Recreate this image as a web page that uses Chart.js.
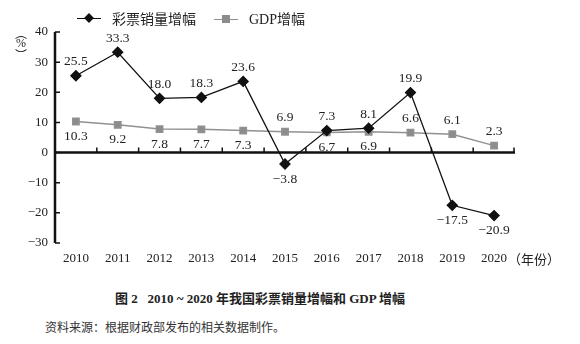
<!DOCTYPE html>
<html>
<head>
<meta charset="utf-8">
<script src="https://cdn.jsdelivr.net/npm/chart.js@4.4.1/dist/chart.umd.min.js"></script>
<style>
  body { margin: 0; background: #fff; width: 580px; height: 344px; overflow: hidden; position: relative;
         font-family: "Liberation Serif", "Noto Sans CJK SC", serif; color: #222; }
  #wrap { position: absolute; left: 0; top: 0; width: 580px; height: 270px; }
  .abs { position: absolute; white-space: nowrap; }
  .leg { top: 10px; font-size: 14px; line-height: 16px; display: flex; align-items: center; }
  .leg .ln { width: 24px; height: 0; position: relative; margin-right: 11px; }
  .leg .mk { position: absolute; left: 50%; top: 50%; }
  #unit { left: 14px; top: 28px; width: 14px; font-size: 12px; line-height: 9px; text-align: center; }
  #unit .p { font-family: "Noto Sans CJK SC", sans-serif; display: block; }
  #unit .pc { display: block; line-height: 13px; font-family: "Liberation Serif", serif; }
  #year { left: 508px; top: 249px; font-size: 13px; font-family: "Noto Sans CJK SC", sans-serif; }
  #title { left: 0; width: 520px; text-align: center; top: 288px; font-size: 13px; font-weight: bold; }
  #note { left: 45px; top: 318px; font-size: 12px; font-family: "Noto Sans CJK SC", sans-serif; color: #333; }
</style>
</head>
<body>
<div id="wrap"><canvas id="myChart"></canvas></div>
<div class="abs leg" style="left:77px">
  <span class="ln" style="border-top:1.5px solid #111"><span class="mk" style="width:7px;height:7px;background:#111;transform:translate(-50%,-50%) rotate(45deg);margin-top:-1px"></span></span>
  <span style="font-family:'Noto Sans CJK SC',sans-serif">彩票销量增幅</span>
</div>
<div class="abs leg" style="left:214px">
  <span class="ln" style="border-top:1.5px solid #8c8c8c"><span class="mk" style="width:8px;height:8px;background:#8c8c8c;transform:translate(-50%,-50%);margin-top:-1px"></span></span>
  <span>GDP<span style="font-family:'Noto Sans CJK SC',sans-serif">增幅</span></span>
</div>
<div class="abs" id="unit"><span class="p">︵</span><span class="pc">%</span><span class="p">︶</span></div>
<div class="abs" id="year">（年份）</div>
<div class="abs" id="title">图 2&nbsp;&nbsp;&nbsp;2010 ~ 2020 年我国彩票销量增幅和 GDP 增幅</div>
<div class="abs" id="note">资料来源：根据财政部发布的相关数据制作。</div>

<script>
// years on the x axis
const years = ['2010', '2011', '2012', '2013', '2014', '2015', '2016', '2017', '2018', '2019', '2020'];
// lottery sales growth (%)
const lotteryGrowth = [25.5, 33.3, 18.0, 18.3, 23.6, -3.8, 7.3, 8.1, 19.9, -17.5, -20.9];
// GDP growth (%)
const gdpGrowth = [10.3, 9.2, 7.8, 7.7, 7.3, 6.9, 6.7, 6.9, 6.6, 6.1, 2.3];
// where each value label sits
const lotteryLabelPos = ['up', 'up', 'up', 'up', 'up', 'down', 'up', 'up', 'up', 'down', 'down'];
const gdpLabelPos = ['down', 'down', 'down', 'down', 'down', 'up', 'down', 'down', 'up', 'up', 'up'];

const serif = '"Liberation Serif", "Times New Roman", serif';

// axis lines, zero line and inward tick marks
const axesPlugin = {
  id: 'axesPlugin',
  beforeDatasetsDraw(chart) {
    const ctx = chart.ctx;
    const x = chart.scales.x, y = chart.scales.y;
    const area = chart.chartArea;
    const y0 = y.getPixelForValue(0);
    ctx.save();
    ctx.strokeStyle = '#111';
    ctx.lineWidth = 2.5;
    ctx.beginPath();
    ctx.moveTo(area.left, area.top);
    ctx.lineTo(area.left, area.bottom);
    ctx.moveTo(area.left, y0);
    ctx.lineTo(area.right, y0);
    ctx.stroke();
    ctx.lineWidth = 1.5;
    ctx.beginPath();
    y.ticks.forEach((t) => {
      const py = y.getPixelForValue(t.value);
      ctx.moveTo(area.left, py);
      ctx.lineTo(area.left + 5, py);
    });
    for (let i = 0; i < years.length; i++) {
      const px = (x.getPixelForValue(i) + x.getPixelForValue(i + 1)) / 2;
      const edge = i === years.length - 1 ? area.right - 1 : px;
      ctx.moveTo(edge, y0);
      ctx.lineTo(edge, y0 - 5);
    }
    ctx.stroke();
    ctx.restore();
  },
  afterDatasetsDraw(chart) {
    const ctx = chart.ctx;
    ctx.save();
    ctx.font = '13.5px ' + serif;
    ctx.fillStyle = '#222';
    ctx.textAlign = 'center';
    ctx.textBaseline = 'middle';
    const posList = [lotteryLabelPos, gdpLabelPos];
    chart.data.datasets.forEach((ds, di) => {
      const meta = chart.getDatasetMeta(di);
      meta.data.forEach((pt, i) => {
        const v = ds.data[i];
        const txt = v.toFixed(1).replace('-', '\u2212');
        const dy = posList[di][i] === 'up' ? -14 : 15;
        ctx.fillText(txt, pt.x, pt.y + dy);
      });
    });
    ctx.restore();
  }
};

const data = {
  labels: years,
  datasets: [
    {
      label: '彩票销量增幅',
      data: lotteryGrowth,
      borderColor: '#111',
      backgroundColor: '#111',
      borderWidth: 1.3,
      pointStyle: 'rectRot',
      pointRadius: 5,
      pointHoverRadius: 5,
      tension: 0,
    },
    {
      label: 'GDP增幅',
      data: gdpGrowth,
      borderColor: '#919191',
      backgroundColor: '#8c8c8c',
      borderWidth: 1.5,
      pointStyle: 'rect',
      pointRadius: 4.5,
      pointHoverRadius: 4.5,
      tension: 0,
    },
  ],
};

const config = {
  type: 'line',
  data: data,
  options: {
    responsive: true,
    maintainAspectRatio: false,
    animation: false,
    layout: { padding: { top: 32, right: 65, left: 0, bottom: 0 } },
    plugins: { legend: { display: false }, tooltip: { enabled: false } },
    scales: {
      x: {
        offset: true,
        grid: { display: false, drawTicks: false },
        border: { display: false },
        ticks: { color: '#222', font: { family: serif, size: 13 }, padding: 8, maxRotation: 0 },
        afterFit: (s) => { s.height = 27; },
      },
      y: {
        min: -30,
        max: 40,
        grid: { display: false, drawTicks: false },
        border: { display: false },
        ticks: {
          stepSize: 10,
          color: '#222',
          font: { family: serif, size: 13 },
          padding: 7,
          callback: (v) => String(v).replace('-', '\u2212'),
        },
        afterFit: (s) => { s.width = 55; },
      },
    },
  },
  plugins: [axesPlugin],
};

var myChart = new Chart(document.getElementById('myChart'), config);
</script>
</body>
</html>
